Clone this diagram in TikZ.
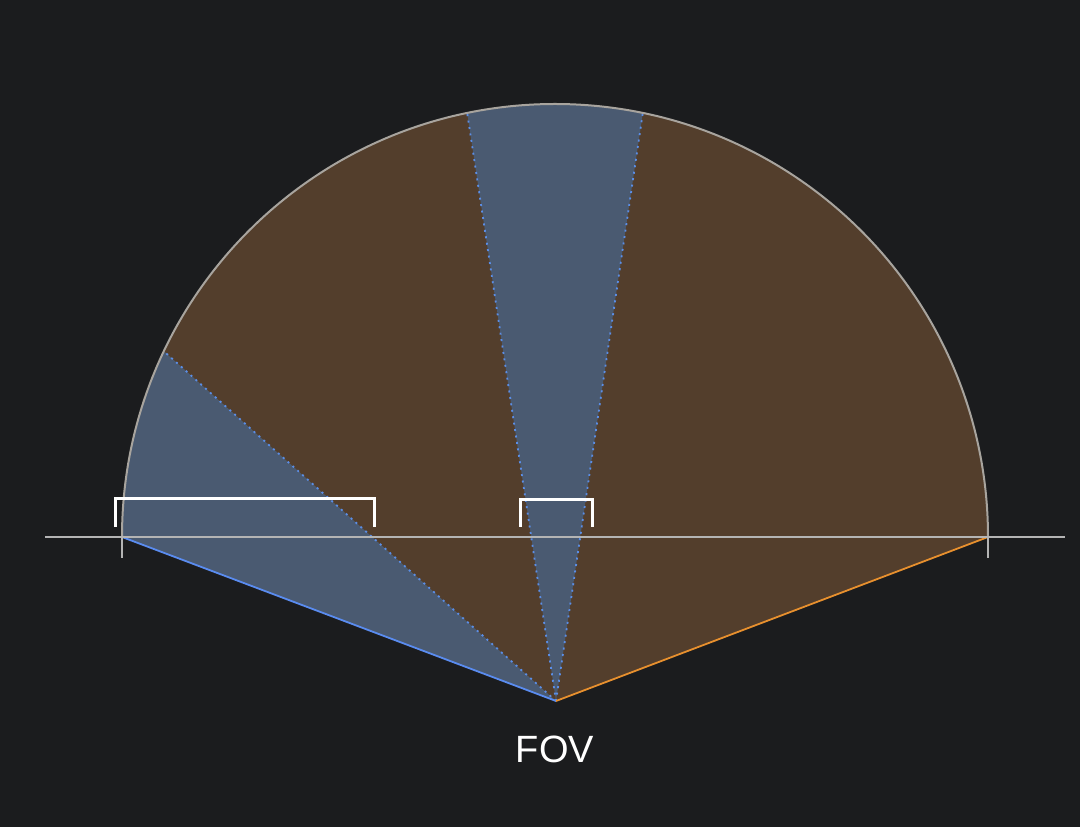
\documentclass[tikz,border=0pt]{standalone}
\usepackage{fontspec}
\setmainfont{Liberation Sans}
\usetikzlibrary{calc}
\definecolor{bg}{HTML}{1B1C1E}
\definecolor{bluefill}{HTML}{4A5A71}
\definecolor{orangefill}{HTML}{533E2C}
\definecolor{bluedot}{HTML}{5B8EE6}
\definecolor{blueline}{HTML}{5A8CF0}
\definecolor{orangeline}{HTML}{E8902E}
\definecolor{arcgray}{HTML}{A8A49E}
\definecolor{axisgray}{HTML}{B4B4B4}
\tikzset{
  raydot/.style={bluedot, line width=1.8pt, dash pattern=on 2pt off 4.5pt},
  bracketline/.style={white, line width=3pt},
  axisline/.style={axisgray, line width=1.8pt},
}
\begin{document}
\begin{tikzpicture}[x=1pt,y=1pt]
\fill[bg] (0,0) rectangle (1080,827);
\useasboundingbox (0,0) rectangle (1080,827);
\def\R{433}
\coordinate (C) at (555,290);
\coordinate (apex) at (556,126);
\coordinate (L) at (122,290);
\coordinate (Rt) at (988,290);
\coordinate (A1) at ($(C)+(154.6:\R)$);
\coordinate (A2) at ($(C)+(101.7:\R)$);
\coordinate (A3) at ($(C)+(78.3:\R)$);
% orange fill
\fill[orangefill] (apex) -- (L) arc[start angle=180,end angle=0,radius=\R] -- cycle;
% blue sectors
\fill[bluefill] (apex) -- (L) arc[start angle=180,end angle=154.6,radius=\R] -- cycle;
\fill[bluefill] (apex) -- (A2) arc[start angle=101.7,end angle=78.3,radius=\R] -- cycle;
% dotted rays
\draw[raydot] (apex) -- (A1);
\draw[raydot] (apex) -- (A2);
\draw[raydot] (apex) -- (A3);
% solid edges
\draw[blueline, line width=1.8pt] (apex) -- (L);
\draw[orangeline, line width=1.8pt] (apex) -- (Rt);
% arc
\draw[arcgray, line width=2pt] (L) arc[start angle=180,end angle=0,radius=\R];
% axis
\coordinate (axL) at (45,290);
\coordinate (axR) at (1065,290);
\draw[axisline] (axL) -- (axR);
\draw[axisline] (L) -- ++(0,-21);
\draw[axisline] (Rt) -- ++(0,-21);
% brackets
\coordinate (b1a) at (115,300);
\coordinate (b1b) at (374,300);
\coordinate (b2a) at (520,300);
\coordinate (b2b) at (592,300);
\draw[bracketline] (b1a) -- ++(0,28) -| (b1b);
\draw[bracketline] (b2a) -- ++(0,27) -| (b2b);
% label
\node[white, font=\fontsize{38}{42}\selectfont, inner sep=0pt] (fov) at (555,78) {FOV};
\end{tikzpicture}
\end{document}
